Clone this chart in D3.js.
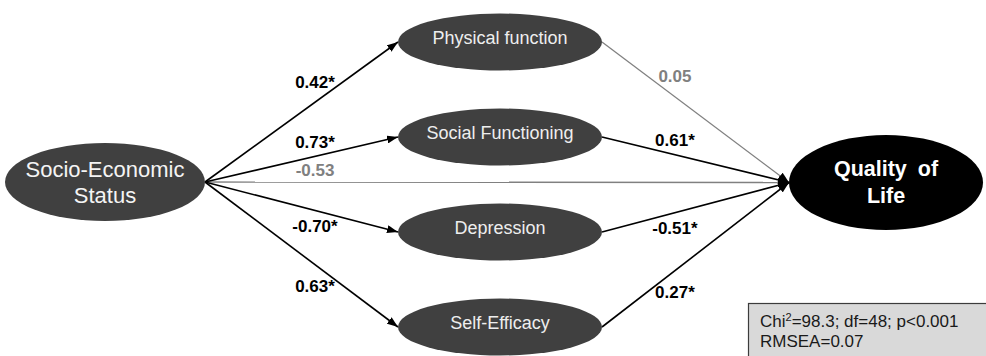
<!DOCTYPE html>
<html>
<head>
<meta charset="utf-8">
<script src="https://cdn.jsdelivr.net/npm/d3@7"></script>
<style>
  html, body { margin: 0; padding: 0; background: #ffffff; }
  svg { display: block; font-family: "Liberation Sans", Arial, Helvetica, sans-serif; }
</style>
</head>
<body>
<svg id="chart" width="986" height="356"></svg>
<script>
// ---- Model: socio-economic status -> mediators -> quality of life ----
const exposureLines = ["Socio-Economic", "Status"];
const outcomeLines = ["Quality of", "Life"];
const mediators = ["Physical function", "Social Functioning", "Depression", "Self-Efficacy"];

// standardised path coefficients
const pathA = [0.42, 0.73, -0.70, 0.63];          // exposure -> mediator
const pathASig = [true, true, true, true];
const pathB = [0.05, 0.61, -0.51, 0.27];          // mediator -> outcome
const pathBSig = [false, true, true, true];
const directPath = -0.53;                          // exposure -> outcome
const directSig = false;

// model fit
const fitChi2 = 98.3;
const fitDf = 48;
const fitP = "<0.001";
const fitRmsea = 0.07;

// ---- Layout ----
const svg = d3.select("#chart");
const fmt = d3.formatLocale({decimal: ".", thousands: ",", grouping: [3], currency: ["", ""], minus: "-"}).format(".2f");
const coefText = (v, sig) => fmt(v) + (sig ? "*" : "");

const col = d3.scaleOrdinal().domain(["exposure", "mediator", "outcome"]).range([105, 500, 886]);
const row = d3.scalePoint().domain(mediators).range([42, 327]);
const midY = 182;

const sigColor = "#000000";
const nsColor = "#808080";

const exposureNode = {lines: exposureLines, cx: col("exposure"), cy: midY, rx: 100, ry: 39,
  fill: "#404040", text: "#f4f4f4", weight: "normal", size: 22, lh: 26, shift: 0};
const outcomeNode = {lines: outcomeLines, cx: col("outcome"), cy: midY + 0.5, rx: 97, ry: 47.5,
  fill: "#000000", text: "#ffffff", weight: "bold", size: 21.5, lh: 27, shift: -1};
const mediatorNodes = mediators.map(m => ({lines: [m], cx: col("mediator"), cy: row(m), rx: 102, ry: 28.5,
  fill: "#404040", text: "#eeeeee", weight: "normal", size: 18, lh: 22, shift: -4}));

// edges: exposure -> mediators, mediators -> outcome, direct
const edges = [];
mediatorNodes.forEach((n, i) => {
  edges.push({s: exposureNode, t: n, value: pathA[i], sig: pathASig[i], part: "a",
              side: n.cy <= midY ? -1 : 1});
});
mediatorNodes.forEach((n, i) => {
  edges.push({s: n, t: outcomeNode, value: pathB[i], sig: pathBSig[i], part: "b",
              side: n.cy <= midY ? -1 : 1});
});
edges.push({s: exposureNode, t: outcomeNode, value: directPath, sig: directSig, part: "c", side: -1});

edges.forEach(e => {
  e.x1 = e.s.cx + e.s.rx; e.y1 = e.s.cy;
  e.x2 = e.t.cx - e.t.rx; e.y2 = e.t.cy;
});

// arrowhead
svg.append("defs").append("marker")
  .attr("id", "arrow")
  .attr("markerUnits", "userSpaceOnUse")
  .attr("viewBox", "0 0 11 8")
  .attr("markerWidth", 11).attr("markerHeight", 8)
  .attr("refX", 11).attr("refY", 4)
  .attr("orient", "auto")
  .append("path").attr("d", "M0,0 L11,4 L0,8 Z").attr("fill", "#000");

// paths (non-significant first so the black ones sit on top)
const edgeOrder = edges.slice().sort((a, b) => d3.ascending(a.sig, b.sig));
svg.append("g").selectAll("line").data(edgeOrder).join("line")
  .attr("x1", d => d.x1).attr("y1", d => d.y1)
  .attr("x2", d => d.x2).attr("y2", d => d.y2)
  .attr("stroke", d => d.sig ? sigColor : nsColor)
  .attr("stroke-width", d => d.sig ? 1.6 : 1.3)
  .attr("marker-end", "url(#arrow)");

// ellipses
const allNodes = [exposureNode, ...mediatorNodes, outcomeNode];
const nodeG = svg.append("g").selectAll("g").data(allNodes).join("g");
nodeG.append("ellipse")
  .attr("cx", d => d.cx).attr("cy", d => d.cy)
  .attr("rx", d => d.rx).attr("ry", d => d.ry)
  .attr("fill", d => d.fill);
nodeG.each(function(d) {
  const g = d3.select(this);
  const n = d.lines.length;
  d.lines.forEach((ln, i) => {
    g.append("text")
      .attr("x", d.cx)
      .attr("y", d.cy + (i - (n - 1) / 2) * d.lh + 0.36 * d.size + d.shift)
      .attr("text-anchor", "middle")
      .attr("font-size", d.size)
      .attr("font-weight", d.weight)
      .attr("fill", d.text)
      .attr("word-spacing", d.weight === "bold" ? 5 : 0)
      .text(ln);
  });
});

// coefficient labels: placed along each path, lifted away from it by an
// amount that grows with the path's steepness
const labelG = svg.append("g");
const leftFrac = 0.57, rightFrac = 0.39, baseOff = 12, slopeOff = 12, labelSize = 17;
edges.forEach(e => {
  let lx;
  if (e.part === "b") lx = e.x1 + rightFrac * (e.x2 - e.x1);
  else lx = e.x1 + leftFrac * (mediatorNodes[0].cx - mediatorNodes[0].rx - e.x1);
  const ly = e.y1 + (lx - e.x1) / (e.x2 - e.x1) * (e.y2 - e.y1);
  const tan = Math.abs((e.y2 - e.y1) / (e.x2 - e.x1));
  const off = baseOff + slopeOff * tan;
  labelG.append("text")
    .attr("x", lx)
    .attr("y", ly + e.side * off + 0.36 * labelSize)
    .attr("text-anchor", "middle")
    .attr("font-size", labelSize)
    .attr("font-weight", "bold")
    .attr("fill", e.sig ? sigColor : nsColor)
    .text(coefText(e.value, e.sig));
});

// fit statistics box
const box = svg.append("g");
box.append("rect")
  .attr("x", 748.5).attr("y", 303.5)
  .attr("width", 260).attr("height", 70)
  .attr("fill", "#d9d9d9").attr("stroke", "#3c3c3c").attr("stroke-width", 1.2);
const t1 = box.append("text").attr("x", 760).attr("y", 327).attr("font-size", 17).attr("fill", "#1a1a1a");
t1.append("tspan").text("Chi");
t1.append("tspan").attr("font-size", 11).attr("dy", -6).text("2");
t1.append("tspan").attr("dy", 6).text(`=${fitChi2}; df=${fitDf}; p${fitP}`);
box.append("text").attr("x", 760).attr("y", 347).attr("font-size", 17).attr("fill", "#1a1a1a")
  .text(`RMSEA=${fmt(fitRmsea)}`);
</script>
</body>
</html>
